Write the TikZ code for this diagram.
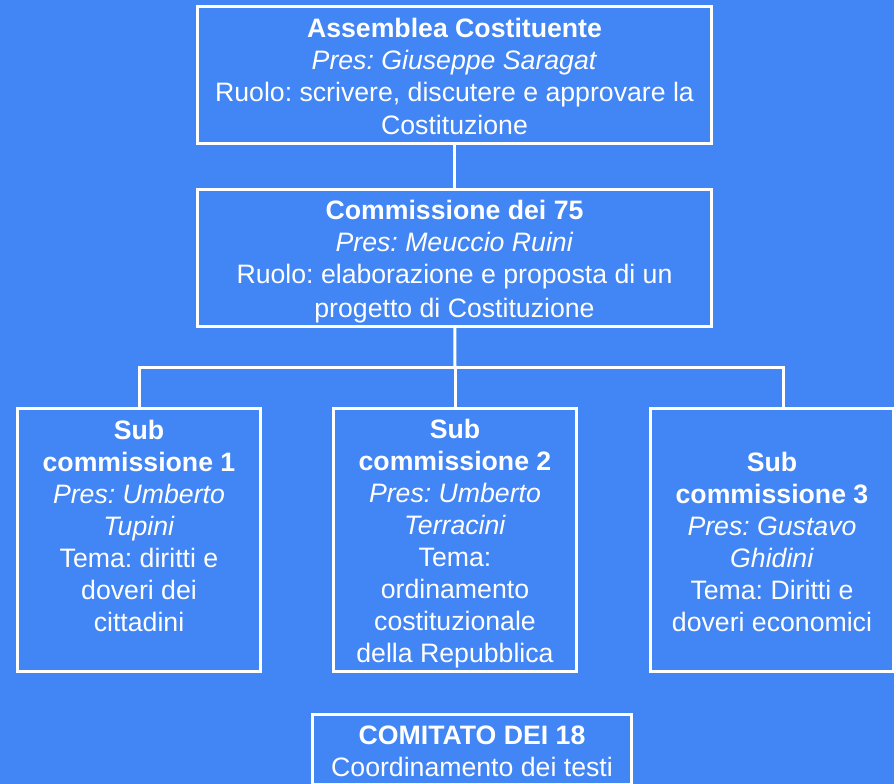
\documentclass[tikz,border=0pt]{standalone}
\usepackage{fontspec}
\setmainfont{Liberation Sans}
\usepackage{xcolor}
\usepackage{tikz}

\definecolor{slideblue}{RGB}{66,133,244}
\newcommand{\linestrut}{\rule[-5pt]{0pt}{32pt}}
\frenchspacing

\begin{document}
\begin{tikzpicture}[x=1pt,y=-1pt]
\tikzstyle{box}=[draw=white, line width=3pt, text=white, align=center, inner sep=0pt, font=\fontsize{26.67}{32}\selectfont]
\tikzstyle{widebox}=[box, minimum width=514pt, minimum height=137pt]
\tikzstyle{subbox}=[box, minimum width=243pt, minimum height=263pt]
\tikzstyle{link}=[draw=white, line width=3pt]

% Background 'slide'
\path[fill=slideblue] (0,0) rectangle (894,784);
\useasboundingbox (0,0) rectangle (894,784);
\clip (0,0) rectangle (894,784);

\node[widebox] (assemblea) at (454.5,75) {\linestrut\textbf{Assemblea Costituente}\\ \textit{Pres: Giuseppe Saragat}\\ Ruolo: scrivere, discutere e approvare la\\ Costituzione\linestrut};
\node[widebox] (commissione) at (454.5,258) {\linestrut\textbf{Commissione dei 75}\\ \textit{Pres: Meuccio Ruini}\\ Ruolo: elaborazione e proposta di un\\ progetto di Costituzione\linestrut};

\coordinate (fork) at (455,367);
\coordinate (fork-left) at (139,367);
\coordinate (fork-right) at (783,367);

\node[subbox] (sub1) at (139,540) {\linestrut\textbf{Sub}\\ \textbf{commissione 1}\\ \textit{Pres: Umberto}\\ \textit{Tupini}\\ Tema: diritti e\\ doveri dei\\ cittadini\\ \linestrut};
\node[subbox] (sub2) at (455,540) {\linestrut\textbf{Sub}\\ \textbf{commissione 2}\\ \textit{Pres: Umberto}\\ \textit{Terracini}\\ Tema:\\ ordinamento\\ costituzionale\\ della Repubblica\linestrut};
\node[subbox] (sub3) at (772,540) {\linestrut\textbf{Sub}\\ \textbf{commissione 3}\\ \textit{Pres: Gustavo}\\ \textit{Ghidini}\\ Tema: Diritti e\\ doveri economici\linestrut};

\node[box, anchor=north, minimum width=319pt, inner ysep=3pt] (comitato) at (472,712.5) {\linestrut\textbf{COMITATO DEI 18}\\ Coordinamento dei testi\linestrut};

\path[link] (assemblea) -- (commissione);
\path[link] (commissione) -- (fork);
\path[link] (sub1.north) |- (fork-right) -- (fork-right |- sub3.north);
\path[link] (fork) -- (sub2);
\end{tikzpicture}
\end{document}
